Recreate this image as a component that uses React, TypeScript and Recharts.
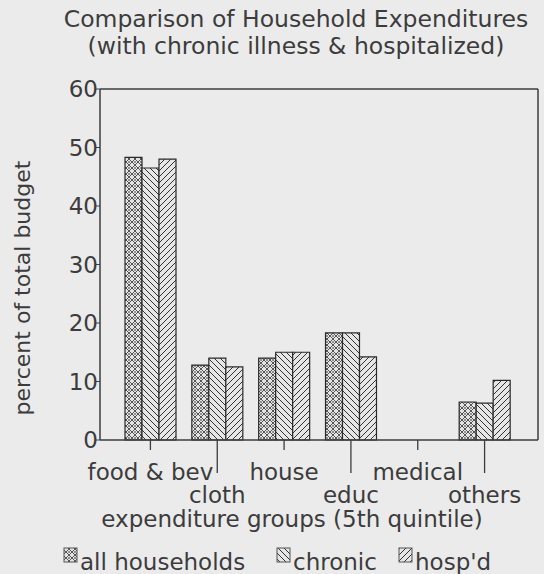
import { BarChart, Bar, XAxis, YAxis, Label } from "recharts";

const categories = ["food & bev", "cloth", "house", "educ", "medical", "others"];
const allHouseholds = [48.3, 12.8, 14.0, 18.3, 0, 6.5];
const chronic = [46.5, 14.0, 15.0, 18.3, 0, 6.3];
const hospd = [48.0, 12.5, 15.0, 14.2, 0, 10.2];
const yTicks = [0, 10, 20, 30, 40, 50, 60];

const data = categories.map((name, i) => ({
  name,
  all: allHouseholds[i],
  chronic: chronic[i],
  hosp: hospd[i],
}));

const INK = "#3c3c3c";
const FONT = "'DejaVu Sans', sans-serif";

// staggered category labels: even index on the first row, odd index lower with a long tick
const CategoryTick = ({ x, y, payload, index }: any) => {
  const low = index % 2 === 1;
  return (
    <g>
      <line x1={x} x2={x} y1={y} y2={y + (low ? 33 : 10)} stroke={INK} strokeWidth={1.3} />
      <text x={x} y={y + (low ? 63 : 40)} textAnchor="middle" fill={INK} fontSize={23} fontFamily={FONT}>
        {payload.value}
      </text>
    </g>
  );
};

function Patterns() {
  return (
    <svg width={0} height={0} style={{ position: "absolute" }}>
      <defs>
        <pattern id="patAll" patternUnits="userSpaceOnUse" width={6} height={6}>
          <rect width={6} height={6} fill="#e4e4e4" />
          <path d="M0,0 L6,6 M6,0 L0,6" stroke="#444" strokeWidth={0.9} />
          <circle cx={3} cy={0} r={0.8} fill="#222" />
          <circle cx={3} cy={6} r={0.8} fill="#222" />
        </pattern>
        <pattern id="patChronic" patternUnits="userSpaceOnUse" width={6} height={6}>
          <rect width={6} height={6} fill="#e6e6e6" />
          <path d="M-1,5 L1,7 M0,0 L6,6 M5,-1 L7,1" stroke="#333" strokeWidth={1} />
        </pattern>
        <pattern id="patHosp" patternUnits="userSpaceOnUse" width={6} height={6}>
          <rect width={6} height={6} fill="#e6e6e6" />
          <path d="M-1,1 L1,-1 M0,6 L6,0 M5,7 L7,5" stroke="#333" strokeWidth={1} />
        </pattern>
      </defs>
    </svg>
  );
}

const legendItems = [
  { label: "all households", fill: "url(#patAll)", x: 64 },
  { label: "chronic", fill: "url(#patChronic)", x: 277 },
  { label: "hosp'd", fill: "url(#patHosp)", x: 399 },
];

export default function App() {
  return (
    <div
      style={{
        position: "absolute",
        left: 0,
        top: 0,
        width: 544,
        height: 574,
        overflow: "hidden",
        background: "#ebebeb",
        fontFamily: FONT,
      }}
    >
      <Patterns />
      <BarChart
        width={544}
        height={574}
        data={data}
        barSize={17}
        barGap={0}
        margin={{ top: 88, right: 5, left: 60, bottom: 54 }}
      >
        <XAxis
          dataKey="name"
          height={80}
          interval={0}
          padding={{ left: 17, right: 20 }}
          tickSize={0}
          tickMargin={0}
          tickLine={false}
          axisLine={{ stroke: INK, strokeWidth: 1.5 }}
          tick={<CategoryTick />}
        >
          <Label
            content={() => (
              <text x={292} y={527} textAnchor="middle" fill={INK} fontSize={23} fontFamily={FONT}>
                expenditure groups (5th quintile)
              </text>
            )}
          />
        </XAxis>
        <XAxis
          xAxisId="top"
          orientation="top"
          dataKey="name"
          height={1}
          tick={false}
          tickLine={false}
          axisLine={{ stroke: INK, strokeWidth: 1.5 }}
        />
        <YAxis
          width={40}
          domain={[0, 60]}
          ticks={yTicks}
          interval={0}
          tickSize={4}
          tickMargin={-2}
          tickLine={{ stroke: INK }}
          axisLine={{ stroke: INK, strokeWidth: 1.5 }}
          tick={{ fill: INK, fontSize: 23, fontFamily: FONT }}
        >
          <Label
            content={() => (
              <text
                x={30}
                y={288}
                transform="rotate(-90, 30, 288)"
                textAnchor="middle"
                fill={INK}
                fontSize={22}
                fontFamily={FONT}
              >
                percent of total budget
              </text>
            )}
          />
        </YAxis>
        <YAxis
          yAxisId="right"
          orientation="right"
          domain={[0, 60]}
          width={1}
          tick={false}
          tickLine={false}
          axisLine={{ stroke: INK, strokeWidth: 1.5 }}
        />
        <Bar dataKey="all" name="all households" fill="url(#patAll)" stroke="#2a2a2a" strokeWidth={1.2} isAnimationActive={false} />
        <Bar dataKey="chronic" name="chronic" fill="url(#patChronic)" stroke="#2a2a2a" strokeWidth={1.2} isAnimationActive={false} />
        <Bar dataKey="hosp" name="hosp'd" fill="url(#patHosp)" stroke="#2a2a2a" strokeWidth={1.2} isAnimationActive={false} />
      </BarChart>
      <svg width={544} height={574} style={{ position: "absolute", left: 0, top: 0, pointerEvents: "none" }}>
        <text x={296} y={27} textAnchor="middle" fill={INK} fontSize={23.5} fontFamily={FONT}>
          Comparison of Household Expenditures
        </text>
        <text x={296} y={54} textAnchor="middle" fill={INK} fontSize={23.5} fontFamily={FONT}>
          (with chronic illness &amp; hospitalized)
        </text>
        {legendItems.map((item) => (
          <g key={item.label}>
            <rect x={item.x} y={548} width={13} height={14} fill={item.fill} stroke="#555" strokeWidth={1} />
            <text x={item.x + 16} y={570} fill={INK} fontSize={23} fontFamily={FONT}>
              {item.label}
            </text>
          </g>
        ))}
      </svg>
    </div>
  );
}
